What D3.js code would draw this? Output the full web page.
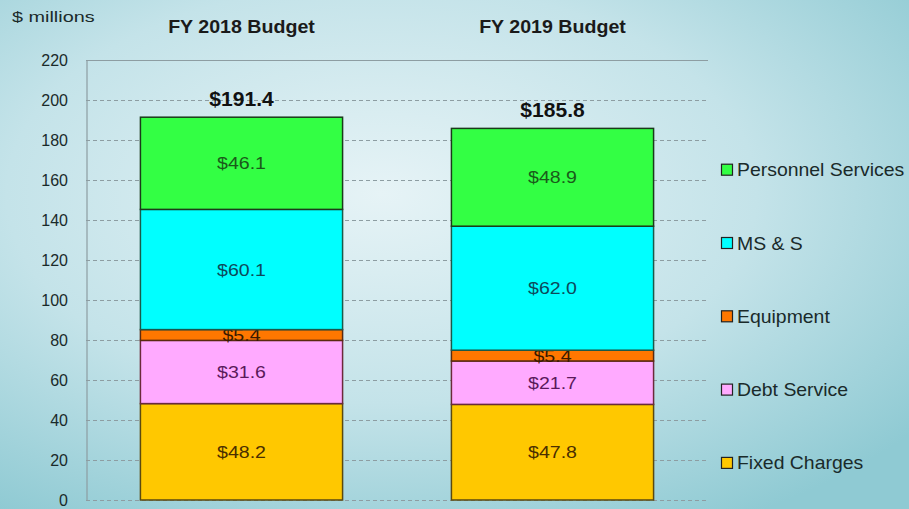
<!DOCTYPE html>
<html><head><meta charset="utf-8">
<script src="https://cdn.jsdelivr.net/npm/d3@7"></script>
<style>html,body{margin:0;padding:0;overflow:hidden}svg{display:block}</style>
</head><body>
<script>
const categories = ["FY 2018 Budget", "FY 2019 Budget"];
const seriesNames = ["Fixed Charges", "Debt Service", "Equipment", "MS & S", "Personnel Services"];
const fixedCharges = [48.2, 47.8];
const debtService = [31.6, 21.7];
const equipment = [5.4, 5.4];
const msAndS = [60.1, 62.0];
const personnelServices = [46.1, 48.9];
const totals = ["$191.4", "$185.8"];
const yTicks = [0, 20, 40, 60, 80, 100, 120, 140, 160, 180, 200, 220];

const fills = ["#ffc800", "#ffaaff", "#ff7700", "#00ffff", "#33ff44"];
const strokes = ["#5a4a10", "#6a2a3a", "#5a2a10", "#1a5a4a", "#1a3a1a"];
const labelColors = ["#4a2e00", "#5a1a5a", "#3a1a00", "#0d4a5a", "#1a5a1a"];
const FONT = "Liberation Sans, Arial, sans-serif";

const W = 909, H = 509;
const svg = d3.select("body").append("svg").attr("width", W).attr("height", H);
const defs = svg.append("defs");
const rg = defs.append("radialGradient").attr("id", "bg")
  .attr("cx", 0.42).attr("cy", 0.38).attr("r", 0.75);
rg.append("stop").attr("offset", "0%").attr("stop-color", "#e6f3f6");
rg.append("stop").attr("offset", "55%").attr("stop-color", "#c4e3e9");
rg.append("stop").attr("offset", "100%").attr("stop-color", "#8fcad3");
svg.append("rect").attr("width", W).attr("height", H).attr("fill", "url(#bg)");

const m = {left: 86, right: 708, top: 60, bottom: 500};
const y = d3.scaleLinear().domain([0, 220]).range([m.bottom, m.top]);
const x = d3.scaleBand().domain(categories).range([m.left, m.right]).paddingInner(0.35).paddingOuter(0.175);

// stretched text helper
function stext(sel, sx) {
  return sel.attr("transform", function () {
    const px = +this.getAttribute("data-x"), py = +this.getAttribute("data-y");
    return `translate(${px},${py}) scale(${sx},1)`;
  });
}

// gridlines
svg.append("g").selectAll("line").data(yTicks.filter(t => t < 220)).join("line")
  .attr("x1", m.left).attr("x2", m.right)
  .attr("y1", d => y(d) + 0.5).attr("y2", d => y(d) + 0.5)
  .attr("stroke", "#8d9da2").attr("stroke-width", 1).attr("stroke-dasharray", "4,3");
svg.append("line").attr("x1", m.left).attr("x2", m.right).attr("y1", y(220)+0.5).attr("y2", y(220)+0.5)
  .attr("stroke", "#8d9da2").attr("stroke-width", 1.2);

// y axis
const yAxis = d3.axisLeft(y).tickValues(yTicks).tickSize(0).tickPadding(18.5);
const ga = svg.append("g").attr("transform", `translate(${m.left + 0.5},0)`).call(yAxis);
ga.select(".domain").attr("stroke", "#8d9da2").attr("stroke-width", 1.2);
ga.selectAll("text").attr("font-family", FONT).attr("font-size", 16).attr("fill", "#1a2a2a");

// stack
const table = categories.map((c, i) => ({
  cat: c,
  "Fixed Charges": fixedCharges[i],
  "Debt Service": debtService[i],
  "Equipment": equipment[i],
  "MS & S": msAndS[i],
  "Personnel Services": personnelServices[i]
}));
const stacked = d3.stack().keys(seriesNames)(table);

const gs = svg.append("g").selectAll("g").data(stacked).join("g");
gs.selectAll("rect").data((s, si) => s.map(d => ({d, si}))).join("rect")
  .attr("x", o => x(o.d.data.cat))
  .attr("width", x.bandwidth())
  .attr("y", o => y(o.d[1]))
  .attr("height", o => y(o.d[0]) - y(o.d[1]))
  .attr("fill", o => fills[o.si])
  .attr("stroke", o => strokes[o.si]).attr("stroke-width", 1.5);

// segment labels
gs.selectAll("text").data((s, si) => s.map(d => ({d, si}))).join("text")
  .attr("data-x", o => x(o.d.data.cat) + x.bandwidth() / 2)
  .attr("data-y", o => (y(o.d[0]) + y(o.d[1])) / 2 + 6)
  .attr("text-anchor", "middle")
  .attr("font-family", FONT).attr("font-size", 17)
  .attr("fill", o => labelColors[o.si])
  .text(o => "$" + (o.d[1] - o.d[0]).toFixed(1))
  .call(stext, 1.15);

// totals
svg.append("g").selectAll("text").data(categories).join("text")
  .attr("data-x", c => x(c) + x.bandwidth() / 2)
  .attr("data-y", (c, i) => y(d3.sum(stacked, s => s[i][1] - s[i][0])) - 11)
  .attr("text-anchor", "middle")
  .attr("font-family", FONT).attr("font-size", 19.5).attr("font-weight", "bold")
  .attr("fill", "#111")
  .text((c, i) => totals[i])
  .call(stext, 1.08);

// headers
svg.append("g").selectAll("text").data(categories).join("text")
  .attr("data-x", c => x(c) + x.bandwidth() / 2)
  .attr("data-y", 32.5)
  .attr("text-anchor", "middle")
  .attr("font-family", FONT).attr("font-size", 18).attr("font-weight", "bold")
  .attr("fill", "#1a1a1a")
  .text(c => c)
  .call(stext, 1.09);

svg.append("text").attr("data-x", 12).attr("data-y", 22)
  .attr("font-family", FONT).attr("font-size", 15.5)
  .attr("fill", "#1a2a2a").text("$ millions")
  .call(stext, 1.28);

// legend
const legendOrder = seriesNames.map((n, i) => ({n, i})).reverse();
const lg = svg.append("g").selectAll("g").data(legendOrder).join("g")
  .attr("transform", (d, k) => `translate(721,${169.7 + k * 73.3})`);
lg.append("rect").attr("x", 0.5).attr("y", -5.5).attr("width", 11).attr("height", 11)
  .attr("fill", d => fills[d.i]).attr("stroke", "#222").attr("stroke-width", 1.2);
lg.append("text").attr("data-x", 16).attr("data-y", 6.5)
  .attr("font-family", FONT).attr("font-size", 17.5)
  .attr("fill", "#1a2a2a").text(d => d.n)
  .call(stext, 1.11);
</script>
</body></html>
